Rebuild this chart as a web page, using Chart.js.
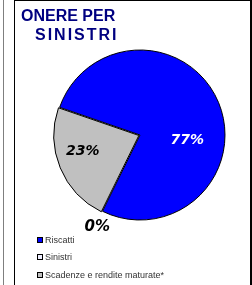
<!DOCTYPE html>
<html><head><meta charset="utf-8">
<script src="https://cdn.jsdelivr.net/npm/chart.js@4.4.0/dist/chart.umd.min.js"></script>
<style>
html,body{margin:0;padding:0;background:#fff;}
#wrap{position:relative;width:252px;height:285px;overflow:hidden;background:#fff;}
#c{position:absolute;left:0;top:0;}
.ln{position:absolute;}
#title{position:absolute;left:21px;top:6px;font-family:"Liberation Sans",Arial,sans-serif;font-weight:bold;font-size:16px;color:#000080;line-height:19px;}
#legend{position:absolute;left:37px;top:231px;font-family:"Liberation Sans",Arial,sans-serif;font-size:9px;color:#333;}
.li{height:17.5px;display:flex;align-items:center;}
.bx{width:4px;height:4px;border:1px solid #000;margin-right:2px;}
</style></head>
<body><div id="wrap">
<canvas id="c" width="252" height="285"></canvas>
<div class="ln" style="left:3px;top:0;width:1px;height:285px;background:#7f7f7f"></div>
<div class="ln" style="left:14px;top:0;width:1px;height:285px;background:#000"></div>
<div class="ln" style="left:14px;top:0;width:238px;height:1px;background:#000"></div>
<div class="ln" style="left:250px;top:0;width:2px;height:285px;background:#000"></div>
<div id="title"></div>
<div id="legend"></div>
</div>
<script>
const titleLines = ["ONERE PER", "SINISTRI"];
const categories = ["Riscatti", "Sinistri", "Scadenze e rendite maturate*"];
const values = [77, 0, 23];
const percentLabels = ["77%", "0%", "23%"];
const colors = ["#0000ff", "#eeeeff", "#c0c0c0"];

// title
const t = document.getElementById('title');
t.innerHTML = '<div>' + titleLines[0] + '</div><div style="padding-left:14px;letter-spacing:2px">' + titleLines[1] + '</div>';
// legend
const lg = document.getElementById('legend');
categories.forEach((c, i) => {
  const d = document.createElement('div'); d.className = 'li';
  d.innerHTML = '<span class="bx" style="background:' + colors[i] + '"></span><span>' + c + '</span>';
  lg.appendChild(d);
});

// label placement (polar, relative to pie centre): angle in degrees, distance as fraction of radius
const labelPlace = [{a: 6, r: 0.56, color: '#fff', size: 14}, {a: 115, r: 1.19, color: '#000', size: 15}, {a: 164, r: 0.70, color: '#000', size: 14}];

const labelPlugin = {
  id: 'pct',
  afterDatasetsDraw(chart) {
    const ctx = chart.ctx;
    const meta = chart.getDatasetMeta(0);
    const arc0 = meta.data[0];
    const cx = arc0.x, cy = arc0.y, R = arc0.outerRadius;
    ctx.save();
    ctx.textAlign = 'center'; ctx.textBaseline = 'middle';
    meta.data.forEach((arc, i) => {
      const p = labelPlace[i];
      const ang = p.a * Math.PI / 180;
      ctx.font = 'italic bold ' + p.size + 'px "DejaVu Sans", Verdana, sans-serif';
      ctx.fillStyle = p.color;
      ctx.fillText(percentLabels[i], cx + Math.cos(ang) * R * p.r, cy + Math.sin(ang) * R * p.r);
    });
    ctx.restore();
  }
};

new Chart(document.getElementById('c'), {
  type: 'pie',
  data: {
    labels: categories,
    datasets: [{
      data: values,
      backgroundColor: colors,
      borderColor: '#000',
      borderWidth: 1,
      offset: [0, 5, 5],
      borderJoinStyle: 'miter'
    }]
  },
  options: {
    responsive: false,
    animation: false,
    rotation: 289,
    radius: 85,
    layout: {padding: {left: 60, right: 32, top: 40, bottom: 55}},
    plugins: {legend: {display: false}, tooltip: {enabled: false}}
  },
  plugins: [labelPlugin]
});
</script>
</body></html>
